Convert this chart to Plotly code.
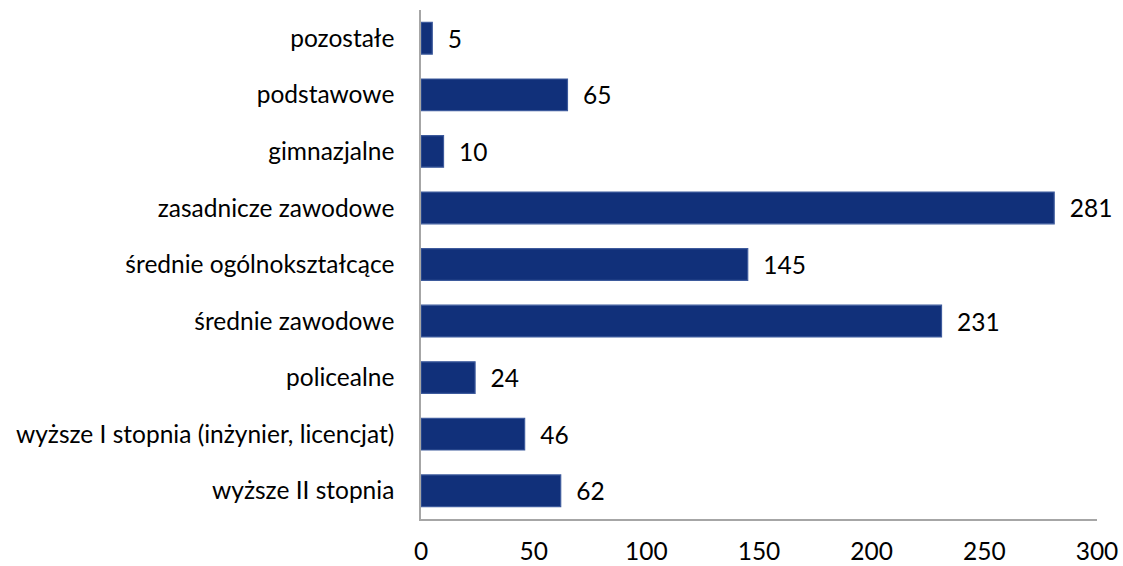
import plotly.graph_objects as go

categories = [
    "pozostałe",
    "podstawowe",
    "gimnazjalne",
    "zasadnicze zawodowe",
    "średnie ogólnokształcące",
    "średnie zawodowe",
    "policealne",
    "wyższe I stopnia (inżynier, licencjat)",
    "wyższe II stopnia",
]
values = [5, 65, 10, 281, 145, 231, 24, 46, 62]
x_ticks = [0, 50, 100, 150, 200, 250, 300]

FONT = "Lato, Carlito, Calibri, 'Open Sans', sans-serif"
FS = 24.5

fig = go.Figure()
fig.add_trace(go.Bar(
    y=categories,
    x=values,
    orientation="h",
    marker=dict(color="#11307a", line=dict(color="#3d5a9c", width=1.2)),
    text=[str(v) for v in values],
    texttemplate="  %{text}",
    textposition="outside",
    textfont=dict(size=FS, color="#000000", family=FONT),
    cliponaxis=False,
    width=0.56,
))

fig.update_layout(
    width=1123,
    height=566,
    margin=dict(l=421, r=26, t=10, b=47),
    plot_bgcolor="white",
    paper_bgcolor="white",
    showlegend=False,
    font=dict(family=FONT, size=FS, color="#000000"),
)
fig.update_xaxes(
    range=[0, 300],
    tickvals=x_ticks,
    ticktext=[str(t) for t in x_ticks],
    showgrid=False,
    zeroline=False,
    showline=True,
    linecolor="#a6a6a6",
    linewidth=1.5,
    ticks="",
    ticklabelstandoff=10,
    tickfont=dict(size=FS, family=FONT),
    automargin=False,
)
fig.update_yaxes(
    categoryorder="array",
    categoryarray=categories[::-1],
    showgrid=False,
    zeroline=False,
    showline=True,
    linecolor="#a6a6a6",
    linewidth=1.5,
    ticks="",
    ticklabelstandoff=20,
    tickfont=dict(size=FS, family=FONT),
    automargin=False,
)

fig.write_html(
    "out.html",
    config={"displayModeBar": False},
    post_script="document.body.style.margin='0';document.body.style.overflow='hidden';",
)
